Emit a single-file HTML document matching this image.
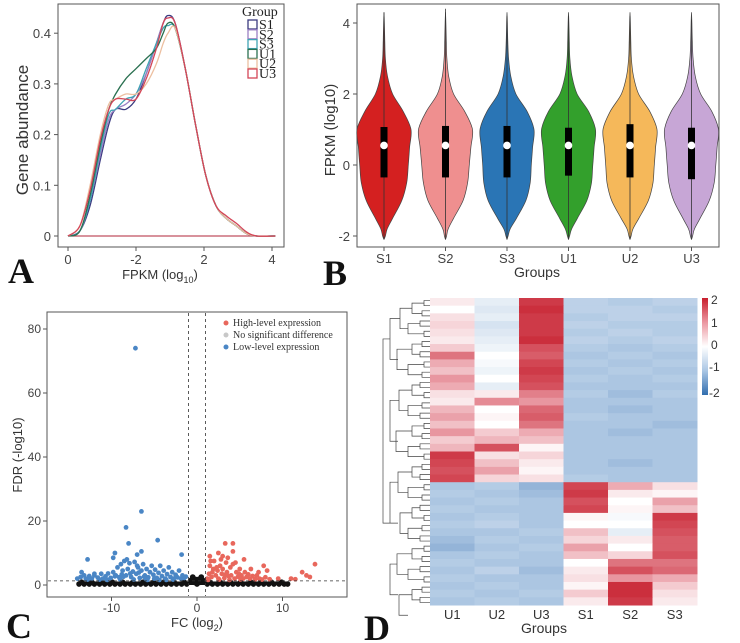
<!DOCTYPE html>
<html><head><meta charset="utf-8"><style>
html,body{margin:0;padding:0;background:#fff;}
svg{display:block;font-family:"Liberation Sans",sans-serif;}
.tk{font-size:13px;fill:#444;}
.big{font-family:"Liberation Serif",serif;font-weight:bold;font-size:36px;fill:#111;}
.ser{font-family:"Liberation Serif",serif;}
</style></head><body>
<svg id="fig" width="740" height="643" viewBox="0 0 740 643">
<g id="pA">
 <rect x="58" y="4" width="226" height="243" fill="none" stroke="#555" stroke-width="1"/>
 <text x="28" y="130" transform="rotate(-90 28 130)" text-anchor="middle" font-size="17" fill="#333">Gene abundance</text>
 <text x="160" y="279" text-anchor="middle" font-size="13" fill="#333">FPKM (log<tspan font-size="9" dy="4">10</tspan><tspan dy="-4">)</tspan></text>
 <text class="big" x="8" y="283">A</text>
 <g id="legA" class="ser"><text x="242" y="16" font-size="14" fill="#222">Group</text></g>
</g>
<g id="pB">
 <rect x="357" y="4" width="362" height="243" fill="none" stroke="#555" stroke-width="1"/>
 <text x="335" y="130" transform="rotate(-90 335 130)" text-anchor="middle" font-size="15" fill="#333">FPKM (log10)</text>
 <text x="537" y="277" text-anchor="middle" font-size="14" fill="#333">Groups</text>
 <text class="big" x="323" y="285">B</text>
</g>
<g id="pC">
 <rect x="47" y="312" width="300" height="285" fill="none" stroke="#555" stroke-width="1"/>
 <text x="22" y="455" transform="rotate(-90 22 455)" text-anchor="middle" font-size="13" fill="#333">FDR (-log10)</text>
 <text x="197" y="627" text-anchor="middle" font-size="13" fill="#333">FC (log<tspan font-size="9" dy="4">2</tspan><tspan dy="-4">)</tspan></text>
 <text class="big" x="6" y="638">C</text>
 <g class="ser" font-size="10" fill="#333">
  <circle cx="226" cy="323" r="2.5" fill="#e8675c"/><text x="233" y="326">High-level expression</text>
  <circle cx="226" cy="335" r="2.5" fill="#c8c8c8"/><text x="233" y="338">No significant difference</text>
  <circle cx="226" cy="347" r="2.5" fill="#4a86c5"/><text x="233" y="350">Low-level expression</text>
 </g>
</g>
<g id="pD">
 <text x="544" y="633" text-anchor="middle" font-size="14" fill="#333">Groups</text>
 <text class="big" x="364" y="640">D</text>
 <defs><linearGradient id="cb" x1="0" y1="0" x2="0" y2="1">
  <stop offset="0" stop-color="#c81e2d"/><stop offset="0.25" stop-color="#eb96a0"/><stop offset="0.5" stop-color="#ffffff"/><stop offset="0.75" stop-color="#aac6e4"/><stop offset="1" stop-color="#326eaf"/></linearGradient></defs>
 <rect x="702" y="298" width="6" height="97" fill="url(#cb)"/>
 <g font-size="12" fill="#333">
  <text x="711" y="304">2</text><text x="711" y="327">1</text><text x="711" y="349">0</text><text x="709" y="371">-1</text><text x="709" y="397">-2</text>
 </g>
</g>
</svg>
<script>
// ---------- Panel A data ----------
const aX = [0,0.35,0.65,0.95,1.2,1.4,1.7,2.0,2.3,2.6,2.8,2.94,3.15,3.45,3.75,4.05,4.35,4.65,4.95,5.25,5.55,6.1];
const aGroups = ["S1","S2","S3","U1","U2","U3"];
const aS1 = [0,0.01,0.06,0.15,0.22,0.25,0.25,0.27,0.32,0.38,0.42,0.435,0.42,0.33,0.22,0.12,0.06,0.035,0.02,0.005,0,0];
const aS2 = [0,0.01,0.07,0.16,0.23,0.25,0.26,0.28,0.32,0.38,0.42,0.43,0.42,0.33,0.22,0.12,0.06,0.035,0.02,0.005,0,0];
const aS3 = [0,0.01,0.07,0.17,0.24,0.25,0.27,0.28,0.33,0.38,0.41,0.415,0.41,0.33,0.22,0.12,0.06,0.035,0.02,0.005,0,0];
const aU1 = [0,0.01,0.08,0.18,0.25,0.28,0.31,0.33,0.35,0.37,0.40,0.42,0.41,0.33,0.22,0.12,0.06,0.035,0.02,0.005,0,0];
const aU2 = [0,0.02,0.10,0.20,0.26,0.27,0.28,0.28,0.30,0.34,0.38,0.40,0.41,0.33,0.22,0.12,0.06,0.035,0.02,0.005,0,0];
const aU3 = [0,0.02,0.09,0.19,0.25,0.27,0.27,0.27,0.31,0.37,0.42,0.43,0.42,0.33,0.22,0.12,0.06,0.04,0.025,0.008,0,0];
const aXTicks = [0,2,4,6];
const aXTickLabels = ["0","-2","2","4"];
const aYTicks = [0,0.1,0.2,0.3,0.4];
const aYTickLabels = ["0","0.1","0.2","0.3","0.4"];
// ---------- Panel B data ----------
const bGroups = ["S1","S2","S3","U1","U2","U3"];
const bV = [-2.1,-2,-1.8,-1.5,-1,-0.5,0,0.5,1,1.5,2,2.5,3,3.5,4,4.3];
const bDensS1 = [0,0.05,0.12,0.32,0.66,0.84,0.9,0.95,1,0.72,0.32,0.13,0.05,0.03,0.015,0];
const bDensS2 = [0,0.04,0.1,0.3,0.65,0.82,0.88,0.94,1,0.72,0.3,0.12,0.05,0.03,0.015,0];
const bDensS3 = [0,0.04,0.12,0.35,0.7,0.86,0.9,0.95,1,0.75,0.33,0.14,0.06,0.03,0.015,0];
const bDensU1 = [0,0.04,0.12,0.33,0.68,0.85,0.9,0.95,1,0.75,0.32,0.13,0.05,0.03,0.015,0];
const bDensU2 = [0,0.04,0.11,0.33,0.68,0.85,0.9,0.95,1,0.74,0.32,0.13,0.05,0.03,0.015,0];
const bDensU3 = [0,0.04,0.11,0.32,0.66,0.84,0.9,0.95,1,0.76,0.34,0.14,0.06,0.03,0.015,0];
const bQ1 = [-0.35,-0.35,-0.35,-0.3,-0.35,-0.4];
const bQ3 = [1.07,1.1,1.1,1.05,1.15,1.05];
const bMed = [0.55,0.55,0.55,0.55,0.55,0.55];
const bMax = [4.3,4.4,4.2,4.2,4.2,4.1];
const bMin = [-2.1,-2.1,-2.1,-2.1,-2.1,-2.1];
const bYTicks = [-2,0,2,4];
// ---------- Panel C data ----------
const cBlueX = [-7.2,-6.5,-8.3,-4.6,-8,-6.5,-9.6,-12.8,-1.8,-9.8,-7,-8.2,-13.5,-12,-14,-13.6,-13.2,-13,-12.6,-12.3,-12,-11.6,-11.2,-11,-10.7,-10.4,-10.1,-9.8,-9.5,-9.3,-9.1,-8.9,-8.7,-8.5,-8.3,-8.1,-7.9,-7.7,-7.5,-7.3,-7.1,-6.9,-6.7,-6.5,-6.3,-6.1,-5.9,-5.7,-5.5,-5.3,-5.1,-4.9,-4.7,-4.5,-4.3,-4.1,-3.9,-3.7,-3.5,-3.3,-3.1,-2.9,-2.7,-2.5,-2.3,-2.1,-1.9,-1.7,-1.5,-1.3,-10.5,-9,-7.4,-6,-4.4,-2.8,-8.6,-7.8,-6.8,-5.8,-12.8,-11.4,-3.6,-9.6,-8.8,-7,-5,-6.2];
const cBlueY = [74,23,18,14,13,10.5,10,8,9.5,8.5,9.5,8,4,3.5,2,2.5,3,2,2.8,2,3,2.3,3.5,2,2.7,3.6,2.2,4,3,5.5,2.4,6.5,4.5,7.5,3,5,6.8,2.5,4.2,7.2,3.5,5.5,2.2,4.5,6.5,3,5,2.4,4,6,3.2,4.8,2.2,3.8,6,2.8,4.5,2,3.4,5.5,2.5,4,2,3.2,2.4,4.5,2,3,2.2,2.6,1.6,1.8,1.7,1.9,1.6,1.7,2.6,3.6,3.9,1.6,1.7,1.7,1.6,2.7,3.3,6,2,2.6];
const cRedX = [3.3,4.2,4.2,13.8,12.3,7.8,5.5,2.5,1.5,3,8.2,11,12.8,13.2,6.3,7.2,9.5,11.5,1.2,1.4,1.5,1.7,1.9,2,2.2,2.4,2.5,2.7,2.9,3,3.2,3.4,3.5,3.7,3.9,4,4.2,4.4,4.6,4.8,5,5.2,5.4,5.6,5.8,6,6.2,6.5,6.8,7,7.3,7.6,8,8.5,1.3,2.6,3.8,5.1,1.8,2.8,3.6,4.5,1.6,2.3,3.3,4.9];
const cRedY = [13,13,10.5,6.5,4,6,8,10,9,9,4.5,2,3,2.5,5,4,2,1.8,2,3.5,6,2.5,5,7.5,3,4.5,2,6,3.5,5,2.2,7,4,2.8,5.5,3,6.5,2,4,2.6,5,3,2,4,2.5,3.3,2,2.8,1.8,3,2,1.7,2.4,1.8,1.6,1.7,1.6,1.7,4,8,8.5,7,7.5,5.5,3.2,3.5];
const cBlackX = [-13.8,-13.2,-12.6,-12,-11.4,-10.8,-10.2,-9.6,-9,-8.4,-7.8,-7.2,-6.6,-6,-5.4,-4.8,-4.2,-3.6,-3,-2.4,-1.8,-1.2,-0.7,-0.3,0,0.3,0.7,1.2,1.8,2.4,3,3.6,4.2,4.8,5.4,6,6.6,7.2,7.8,8.4,9,9.6,10.2,10.6,-13.5,-12.3,-11.1,-9.9,-8.7,-7.5,-6.3,-5.1,-3.9,-2.7,-1.5,1.5,2.7,3.9,5.1,6.3,7.5,8.7,9.9,-0.5,0.5,-0.2,0.2];
const cBlackY = [0.3,0.3,0.3,0.3,0.3,0.3,0.3,0.3,0.3,0.3,0.3,0.3,0.3,0.3,0.3,0.3,0.3,0.3,0.3,0.3,0.3,0.3,1.5,0.8,0.3,0.8,1.5,0.3,0.3,0.3,0.3,0.3,0.3,0.3,0.3,0.3,0.3,0.3,0.3,0.3,0.3,0.3,0.3,0.3,0.9,0.9,0.9,0.9,0.9,0.9,0.9,0.9,0.9,0.9,0.9,0.9,0.9,0.9,0.9,0.9,0.9,0.9,0.9,2.5,2.5,1.8,1.8];
const cXTicks = [-10,0,10];
const cYTicks = [0,20,40,60,80];
// ---------- Panel D data ----------
const dCols = ["U1","U2","U3","S1","S2","S3"];
const dRows = [
[0.2,-0.3,1.8,-0.8,-0.9,-0.8],[0,-0.4,1.9,-0.8,-0.8,-0.9],[0.3,-0.3,1.8,-0.9,-0.8,-0.8],[0.4,-0.5,1.8,-0.8,-0.9,-0.9],
[0.3,-0.4,1.8,-0.9,-0.8,-0.9],[0.2,-0.3,1.9,-0.8,-0.9,-0.8],[0.5,-0.2,1.6,-0.9,-1,-0.9],[1.3,0,1.5,-1,-0.9,-1],
[0.8,-0.1,1.7,-0.9,-1,-0.9],[0.6,-0.2,1.8,-1,-0.9,-1],[1.0,0,1.7,-0.9,-1,-0.9],[0.8,-0.3,1.6,-1,-1,-1],[0.3,0.2,1.2,-0.9,-1.1,-0.9],
[0.2,1.1,1.0,-1,-1,-1],[0.7,0,1.4,-1,-1.1,-1],[0.9,0.1,1.5,-0.9,-1,-1],[0.6,0,1.3,-1,-1,-1.1],
[1.0,0.5,0.8,-1,-1.1,-1],[0.5,0.7,0.6,-1,-1,-1],[0.7,1.6,0.1,-1,-1,-1],
[1.8,0.3,0.4,-1,-1,-1],[1.7,0.6,0.2,-1,-1.1,-1],[1.6,0.9,0.1,-1,-1,-1],[1.7,0.4,0.3,-0.9,-1,-1],
[-1,-0.9,-1.2,1.7,0.8,0.3],[-0.9,-1,-1.1,1.8,0.2,0.1],[-1,-0.9,-1,1.6,0,0.9],[-0.9,-1,-1,1.7,0.1,0.6],
[-1,-0.9,-1,0.1,-0.1,1.8],[-0.9,-0.8,-1,0,0,1.7],[-1,-1,-0.9,0.6,-0.3,1.6],[-1.1,-0.9,-1,0.4,0.2,1.5],
[-1.2,-1,-0.9,0.9,0,1.5],[-1,-0.9,-1,0.6,0.4,1.6],[-0.9,-1,-1,0,1.3,1.3],[-1,-0.8,-1.1,0.2,1.6,1.4],
[-0.9,-1,-1,0.3,1.0,0.8],[-1,-0.9,-1,0.1,1.9,0.5],[-0.9,-1,-0.9,0.5,1.9,0.3],[-1,-0.9,-1,0.2,1.8,0.2]];

const NS="http://www.w3.org/2000/svg";
function mk(tag, parent, attrs){const e=document.createElementNS(NS,tag);for(const k in attrs)e.setAttribute(k,attrs[k]);parent.appendChild(e);return e;}
function smooth(pts){let d="M"+pts[0][0]+","+pts[0][1];for(let i=0;i<pts.length-1;i++){const p0=pts[Math.max(0,i-1)],p1=pts[i],p2=pts[i+1],p3=pts[Math.min(pts.length-1,i+2)];const c1=[p1[0]+(p2[0]-p0[0])/6,p1[1]+(p2[1]-p0[1])/6],c2=[p2[0]-(p3[0]-p1[0])/6,p2[1]-(p3[1]-p1[1])/6];d+=" C"+c1[0].toFixed(1)+","+c1[1].toFixed(1)+" "+c2[0].toFixed(1)+","+c2[1].toFixed(1)+" "+p2[0].toFixed(1)+","+p2[1].toFixed(1);}return d;}

// Panel A
(function(){
 const g=document.getElementById("pA");
 const sx=v=>68+v*34, sy=v=>236-v*507;
 aXTicks.forEach((t,i)=>{
  const l=mk("line",g,{x1:sx(t),x2:sx(t),y1:247,y2:251,stroke:"#555"});
  
  
  const tx=mk("text",g,{x:sx(t),y:264,"text-anchor":"middle",class:"tk"});tx.textContent=aXTickLabels[i];
  
  
 });
 aYTicks.forEach((t,i)=>{
  mk("line",g,{x1:54,x2:58,y1:sy(t),y2:sy(t),stroke:"#555"});
  const tx=mk("text",g,{x:51,y:sy(t)+5,"text-anchor":"end",class:"tk"});tx.textContent=aYTickLabels[i];
  
  
 });
 const base=mk("line",g,{x1:sx(0),x2:sx(6.1),y1:sy(0),y2:sy(0),stroke:"#c05060","stroke-width":1.2});
 
 
 const series=[aS1,aS2,aS3,aU1,aU2,aU3];
 const cols=["#3b3b80","#9a80c4","#3fa3b4","#2a7050","#ecbfa0","#d44658"];
 series.forEach((s,k)=>{
  const p=mk("path",g,{d:smooth(aX.map((x,i)=>[sx(x),sy(s[i])])),fill:"none",stroke:cols[k],"stroke-width":1.3});
  
  
 });
 const lg=document.getElementById("legA");
 aGroups.forEach((n,k)=>{
  const y=20+k*9.8;
  const r=mk("rect",lg,{x:248,y:y,width:9,height:9,fill:"none",stroke:cols[k],"stroke-width":1.3});
  
  
  const t=mk("text",lg,{x:259,y:y+9,"font-size":14,fill:"#222"});t.textContent=n;
  
  
 });
})();

// Panel B
(function(){
 const g=document.getElementById("pB");
 const sy=v=>165-v*35.5, cx=i=>384+i*61.5, W=27;
 bYTicks.forEach(t=>{
  mk("line",g,{x1:353,x2:357,y1:sy(t),y2:sy(t),stroke:"#555"});
  const tx=mk("text",g,{x:350,y:sy(t)+5,"text-anchor":"end",class:"tk"});tx.textContent=String(t);
  
  
 });
 const dens=[bDensS1,bDensS2,bDensS3,bDensU1,bDensU2,bDensU3];
 const cols=["#d42020","#ef8f8f","#2a75b5","#33a02c","#f5b85a","#c7a6d6"];
 bGroups.forEach((n,i)=>{
  const c=cx(i);
  const right=bV.map((v,j)=>[c+dens[i][j]*W,sy(v)]);
  const left=bV.map((v,j)=>[c-dens[i][j]*W,sy(v)]).reverse();
  const d=smooth(right)+" L"+smooth(left).slice(1)+" Z";
  const p=mk("path",g,{d:d,fill:cols[i],stroke:"#444","stroke-width":0.7});
  
  
  const wl=mk("line",g,{x1:c,x2:c,y1:sy(bMax[i]),y2:sy(bMin[i]),stroke:"#333","stroke-width":0.8});
  
  
  const b=mk("rect",g,{x:c-3.5,y:sy(bQ3[i]),width:7,height:sy(bQ1[i])-sy(bQ3[i]),fill:"#000"});
  
  
  const m=mk("circle",g,{cx:c,cy:sy(bMed[i]),r:3.8,fill:"#fff"});
  
  
  mk("line",g,{x1:c,x2:c,y1:247,y2:251,stroke:"#555"});
  const t=mk("text",g,{x:c,y:263,"text-anchor":"middle",class:"tk"});t.textContent=n;
  
  
 });
})();

// Panel C
(function(){
 const g=document.getElementById("pC");
 const sx=v=>197+v*8.55, sy=v=>585-v*3.2;
 cXTicks.forEach(t=>{
  mk("line",g,{x1:sx(t),x2:sx(t),y1:597,y2:601,stroke:"#555"});
  const tx=mk("text",g,{x:sx(t),y:612,"text-anchor":"middle","font-size":12,fill:"#444"});tx.textContent=String(t);
  
  
 });
 cYTicks.forEach(t=>{
  mk("line",g,{x1:43,x2:47,y1:sy(t),y2:sy(t),stroke:"#555"});
  const tx=mk("text",g,{x:41,y:sy(t)+4,"text-anchor":"end","font-size":12,fill:"#444"});tx.textContent=String(t);
  
  
 });
 cBlackX.forEach((x,i)=>{const c=mk("circle",g,{cx:sx(x),cy:sy(cBlackY[i]),r:2.8,fill:"#111"});
  
  });
 const band=mk("rect",g,{x:sx(-13.8),y:sy(1.1),width:sx(10.6)-sx(-13.8),height:sy(0)-sy(1.1),fill:"#111"});
 
 
 cBlueX.forEach((x,i)=>{const c=mk("circle",g,{cx:sx(x),cy:sy(cBlueY[i]),r:2.4,fill:"#4a86c5"});
  
  });
 cRedX.forEach((x,i)=>{const c=mk("circle",g,{cx:sx(x),cy:sy(cRedY[i]),r:2.4,fill:"#e8675c"});
  
  });
 [-1,1].forEach(v=>{const l=mk("line",g,{x1:sx(v),x2:sx(v),y1:313,y2:596,stroke:"#333","stroke-dasharray":"3,3","stroke-width":0.8});
  
  });
 const h=mk("line",g,{x1:48,x2:346,y1:sy(1.3),y2:sy(1.3),stroke:"#333","stroke-dasharray":"3,3","stroke-width":0.8});
 
 
})();

// Panel D
(function(){
 const g=document.getElementById("pD");
 const x0=430,x1=697,y0=298,y1=605;
 const cw=(x1-x0)/dCols.length, rh=(y1-y0)/dRows.length;
 const stops=[[-2,[50,110,175]],[-1,[172,198,226]],[0,[255,255,255]],[1,[232,150,160]],[2,[200,35,50]]];
 function col(v){v=Math.max(-2,Math.min(2,v));for(let i=0;i<4;i++){const a=stops[i],b=stops[i+1];if(v<=b[0]){const t=(v-a[0])/(b[0]-a[0]);return "rgb("+a[1].map((c,k)=>Math.round(c+(b[1][k]-c)*t)).join(",")+")";}}}
 dRows.forEach((row,r)=>{row.forEach((v,c)=>{
  const e=mk("rect",g,{x:(x0+c*cw).toFixed(2),y:(y0+r*rh).toFixed(2),width:(cw+0.5).toFixed(2),height:(rh+0.5).toFixed(2),fill:col(v)});
  
  
 });});
 dCols.forEach((n,c)=>{const t=mk("text",g,{x:x0+c*cw+cw/2,y:619,"text-anchor":"middle","font-size":13,fill:"#333"});t.textContent=n;
  
  });
 // dendrogram (decorative)
 const dg=mk("g",g,{stroke:"#444","stroke-width":0.7,fill:"none"});
 
 
 const leaves=60, lh=(y1-y0)/leaves; let d="";
 for(let i=0;i<leaves;i+=2){const ya=y0+(i+0.5)*lh,yb=y0+(i+1.5)*lh,xb=424-(i%6);d+=`M430,${ya}H${xb}V${yb}H430 `;}
 for(let i=0;i<leaves;i+=4){const ya=y0+(i+1)*lh,yb=y0+(i+3)*lh;d+=`M${424-(i%6)},${ya}H${412-(i%8)}V${yb}H${424-((i+2)%6)} `;}
 for(let i=0;i<leaves;i+=8){const ya=y0+(i+2)*lh,yb=y0+(i+6)*lh;d+=`M${412-(i%8)},${ya}H${400-(i%5)}V${yb}H${412-((i+4)%8)} `;}
 for(let i=0;i<leaves;i+=16){const ya=y0+(i+4)*lh,yb=y0+(Math.min(i+12,leaves-2))*lh;d+=`M${400-(i%5)},${ya}H390V${yb}H398 `;}
 d+=`M390,${y0+8*lh}H383V${y0+44*lh}H390`;
 mk("path",dg,{d:d});
})();
</script>
</body></html>
